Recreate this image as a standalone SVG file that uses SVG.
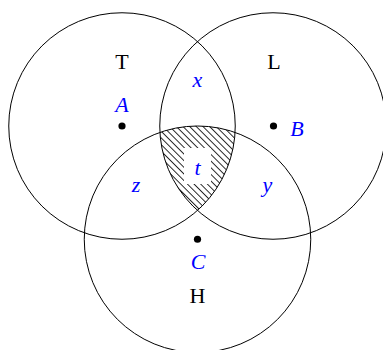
<svg xmlns="http://www.w3.org/2000/svg" width="383" height="350" viewBox="0 0 383 350">
<style>
.set{fill:none;stroke:#000;stroke-width:1}
.lbl{font-family:"Liberation Serif","DejaVu Serif",serif;font-size:22px;fill:#000;text-anchor:middle}
.var{font-family:"Liberation Serif","DejaVu Serif",serif;font-size:22px;font-style:italic;fill:#0000ff;text-anchor:middle}
.pt{fill:#000}
</style>
<defs>
<pattern id="nwlines" patternUnits="userSpaceOnUse" width="6" height="4.7" patternTransform="rotate(45)">
<line x1="-1" y1="2.35" x2="7" y2="2.35" stroke="#000" stroke-width="0.85"/>
</pattern>
</defs>
<g id="region-t">
<path d="M159.93,132.41 A113.25,113.25 0 0 1 235.07,132.41 A113.25,113.25 0 0 1 197.5,210.41 A113.25,113.25 0 0 1 159.93,132.41 Z" fill="url(#nwlines)" stroke="none"/>
</g>
<g id="set-T">
<circle class="set" cx="122" cy="126" r="113.25"/>
<text class="lbl" x="122" y="68.5">T</text>
</g>
<g id="set-L">
<circle class="set" cx="273" cy="126" r="113.25"/>
<text class="lbl" x="274" y="68.5">L</text>
</g>
<g id="set-H">
<circle class="set" cx="197.5" cy="239.25" r="113.25"/>
<text class="lbl" x="197.5" y="303">H</text>
</g>
<g id="point-A">
<circle class="pt" cx="122" cy="126" r="3.6"/>
<text class="var" x="122" y="111.5">A</text>
</g>
<g id="point-B">
<circle class="pt" cx="273.5" cy="126" r="3.6"/>
<text class="var" x="297" y="136">B</text>
</g>
<g id="point-C">
<circle class="pt" cx="197.5" cy="239.25" r="3.6"/>
<text class="var" x="198" y="269">C</text>
</g>
<g id="label-x"><text class="var" x="197.5" y="86.5">x</text></g>
<g id="label-z"><text class="var" x="136" y="191.5">z</text></g>
<g id="label-y"><text class="var" x="267.5" y="192">y</text></g>
<g id="label-t">
<rect x="184" y="148" width="27" height="36" fill="#fff"/>
<text class="var" x="197.5" y="175">t</text>
</g>
</svg>
